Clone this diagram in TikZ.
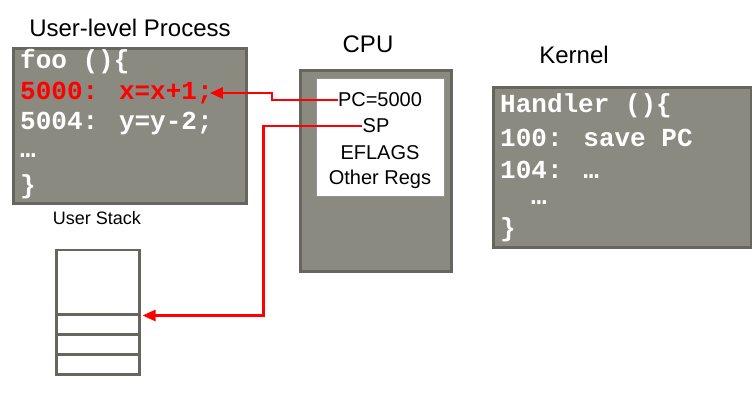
\documentclass[tikz,border=0pt]{standalone}
\usepackage{fontspec}
\setmainfont{Liberation Sans}
\newfontfamily\codefont{Liberation Mono}
\usetikzlibrary{arrows.meta}
\definecolor{boxgray}{RGB}{138,138,128}
\definecolor{boxedge}{RGB}{102,102,94}
\definecolor{linkred}{RGB}{255,0,0}
\tikzset{
  codebox/.style={draw=boxedge, fill=boxgray, line width=3pt, anchor=north west, inner sep=0pt},
  codeline/.style={anchor=west, inner sep=0pt, text=white, font=\codefont\bfseries\fontsize{26}{26}\selectfont},
  reg/.style={inner sep=0pt, font=\fontsize{20}{20}\selectfont},
  title/.style={inner sep=0pt, font=\fontsize{24}{24}\selectfont},
  stackcell/.style={draw=boxedge, line width=2.5pt, anchor=north west, minimum width=83, inner sep=0pt},
  link/.style={draw=linkred, line width=2.5pt, -{Triangle[length=13pt,width=11pt]}}
}
\begin{document}
\begin{tikzpicture}[x=1pt, y=-1pt]
\useasboundingbox (0,0) rectangle (752,403);
% user process
\node[title] (proctitle) at (130,28) {User-level Process};
\node[codebox, minimum width=233, minimum height=155] (proc) at (12,47) {};
\node[codeline] (p1) at (20,62) {foo ()\{};
\node[codeline, text=linkred] (p2) at (20,93) {5000: x=x+1;};
\node[codeline] (p3) at (20,124) {5004: y=y-2;};
\node[codeline] (p4) at (20,156) {…};
\node[codeline] (p5) at (20,187) {\}};
% cpu
\node[title] (cputitle) at (368,44) {CPU};
\node[codebox, minimum width=151, minimum height=201] (cpu) at (299,69) {};
\node[draw=boxedge!70, fill=white, line width=1pt, anchor=north west, minimum width=128, minimum height=118, inner sep=0pt] (regs) at (316,78) {};
\node[reg] (pc) at (380,100) {PC=5000};
\node[reg] (sp) at (376,126) {SP};
\node[reg] (flags) at (380,153) {EFLAGS};
\node[reg] (other) at (380,179) {Other Regs};
% kernel
\node[title] (kerneltitle) at (574,55) {Kernel};
\node[codebox, minimum width=258, minimum height=160] (kernel) at (492,86) {};
\node[codeline] (k1) at (500,106) {Handler ()\{};
\node[codeline] (k2) at (500,138) {100: save PC};
\node[codeline] (k3) at (500,170) {104: …};
\node[codeline] (k4) at (531,203) {…};
\node[codeline] (k5) at (500,230) {\}};
% user stack
\node[inner sep=0pt, font=\fontsize{18}{18}\selectfont] (stacktitle) at (97,218) {User Stack};
\node[stackcell, minimum height=64] (s0) at (55,249) {};
\node[stackcell, minimum height=20] (s1) at (55,313) {};
\node[stackcell, minimum height=20] (s2) at (55,333) {};
\node[stackcell, minimum height=20] (s3) at (55,353) {};
% arrows
\draw[link] (pc.west) -- ++(-66,0) |- ([xshift=-3pt]p2.east);
\draw[link] (sp.west) -- ++(-99,0) |- ([xshift=2pt]s0.south east);
\end{tikzpicture}
\end{document}
